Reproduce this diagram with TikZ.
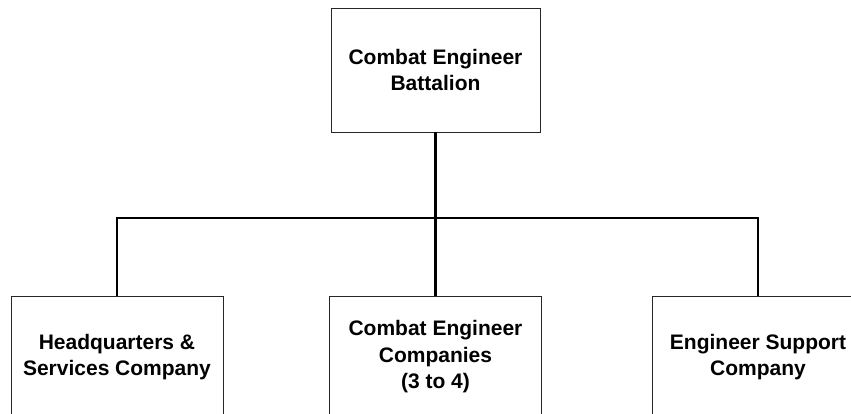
\documentclass[tikz,border=0pt]{standalone}
\usepackage{fontspec}
\setmainfont{Liberation Sans}
\usepackage{tikz}
\usetikzlibrary{positioning}
\tikzset{%
  unit/.style  = {draw, line width = 0.9pt, draw = black!85, rectangle,
    inner sep = 0pt, align = center, minimum height = 122pt,
    minimum width = 212pt,
    font = \bfseries\fontsize{21}{26.5}\selectfont},
  link/.style  = {line width = 2.4pt}
}

\begin{document}
\begin{tikzpicture}[x=1pt, y=-1pt]

            % Page frame
            \useasboundingbox (0,0) rectangle (851,414);

            % Battalion
            \node[unit, minimum width=209pt, minimum height=124pt] (bn) at (435.5,70) {Combat Engineer\\Battalion};

            % Companies
            \node[unit] (hq)  at (117,357)   {Headquarters \&\\Services Company};
            \node[unit] (ce)  at (435.5,357) {Combat Engineer\\Companies\\(3 to 4)};
            \node[unit] (es)  at (758,357)   {Engineer Support\\Company};

            % Bus line
            \coordinate (bus) at (435.5,218);

            % Connect battalion to the companies
            \draw[link] (bn) -- (bus);
            \draw[link] (hq.north) |- (bus) -| (es.north);
            \draw[link] (bus) -- (ce.north);

\end{tikzpicture}
\end{document}
